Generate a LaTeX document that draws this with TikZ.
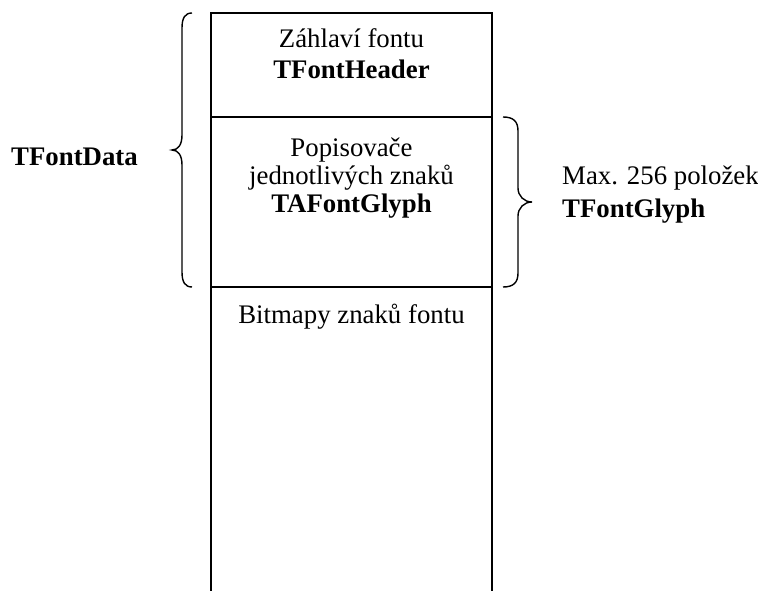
\documentclass[tikz,border=0pt]{standalone}
\usepackage{fontspec}
\setmainfont{Liberation Serif}
\begin{document}
\begin{tikzpicture}[x=1pt,y=-1pt,
  cellline/.style={line width=1.5pt,black},
  bracestyle/.style={line width=1.4pt,black},
  txt/.style={inner sep=0pt,anchor=base,font=\fontsize{26.8}{30}\selectfont},
  txtl/.style={inner sep=0pt,anchor=base west,font=\fontsize{26.8}{30}\selectfont}]
\useasboundingbox (0,0) rectangle (758,591);
% column
\coordinate (tl) at (211,13);
\coordinate (tr) at (492,13);
\coordinate (bl) at (211,591);
\coordinate (br) at (492,591);
\coordinate (d1l) at (211,117);
\coordinate (d1r) at (492,117);
\coordinate (d2l) at (211,287);
\coordinate (d2r) at (492,287);
\draw[cellline] (bl) -- (tl) -- (tr) -- (br);
\draw[cellline] (d1l) -- (d1r);
\draw[cellline] (d2l) -- (d2r);
% texts in cells
\node[txt] (h1) at (351.5,48) {Záhlaví fontu};
\node[txt] (h2) at (351.5,79) {\bfseries TFontHeader};
\node[txt] (g1) at (351.5,157) {Popisovače};
\node[txt] (g2) at (351.5,185) {jednotlivých znaků};
\node[txt] (g3) at (351.5,212) {\bfseries TAFontGlyph};
\node[txt] (b1) at (351.5,323) {Bitmapy znaků fontu};
% left brace
\draw[bracestyle] (192,13) .. controls (185,13) and (182,18) .. (182,28)
  -- (182,135) .. controls (182,145) and (178,150) .. (172,150)
  .. controls (178,150) and (182,155) .. (182,165)
  -- (182,272) .. controls (182,282) and (185,287) .. (192,287);
% right brace
\draw[bracestyle] (503,117) .. controls (513,117) and (518,121) .. (518,131)
  -- (518,188) .. controls (518,196) and (524,202) .. (532,202)
  .. controls (524,202) and (518,208) .. (518,216)
  -- (518,273) .. controls (518,283) and (513,287) .. (503,287);
% side labels
\node[txtl] (fd) at (11,165) {\bfseries TFontData};
\node[txtl] (m1) at (562,185) {Max. 256 položek};
\node[txtl] (m2) at (562,218) {\bfseries TFontGlyph};
\end{tikzpicture}
\end{document}
